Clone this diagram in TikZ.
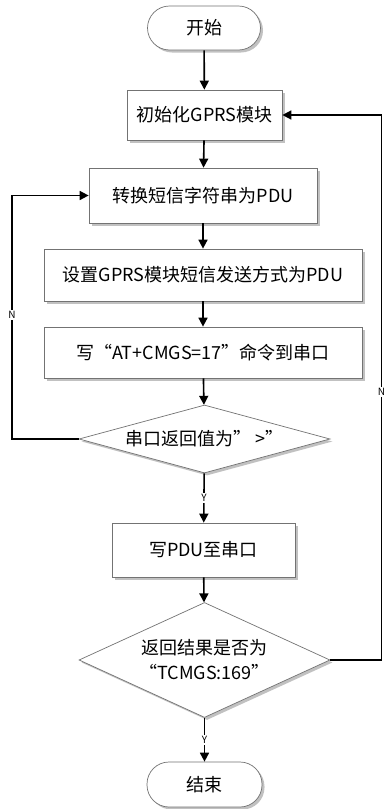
\documentclass[tikz,border=0pt]{standalone}
\usepackage{fontspec}
\setmainfont{Noto Sans CJK SC}
\usetikzlibrary{arrows.meta,shapes.geometric,shadows}
\begin{document}
\begin{tikzpicture}[x=1pt,y=-1pt,
  every node/.style={font=\fontsize{18}{25}\selectfont, inner sep=0pt},
  boxshadow/.style={drop shadow={shadow xshift=2.5pt,shadow yshift=-2.5pt,fill=black!40,opacity=0.6}},
  proc/.style={draw=black!55, line width=0.7pt, fill=white, rectangle, boxshadow},
  term/.style={draw=black!55, line width=0.7pt, fill=white, rectangle, rounded corners=22pt, boxshadow},
  dec/.style={draw=black!55, line width=0.7pt, fill=white, diamond, boxshadow, align=center},
  arr/.style={line width=1.6pt, -{Triangle[length=9pt,width=9pt]}},
  lbl/.style={font=\fontsize{10}{11}\selectfont, fill=white, inner sep=1.2pt}
]
\useasboundingbox (0,0) rectangle (387,809);
\fill[white] (0,0) rectangle (387,809);

\node[term, minimum width=113pt, minimum height=44pt] (start) at (204,28) {开始};
\node[proc, minimum width=155pt, minimum height=50pt] (b1) at (204.5,115) {初始化GPRS模块};
\node[proc, minimum width=228pt, minimum height=55pt] (b2) at (203,195.5) {转换短信字符串为PDU};
\node[proc, minimum width=318pt, minimum height=52pt] (b3) at (203,275) {设置GPRS模块短信发送方式为PDU};
\node[proc, minimum width=318pt, minimum height=51pt] (b4) at (203,352.5) {写“AT+CMGS=17”命令到串口};
\node[dec, aspect=3.7, minimum width=251pt, minimum height=68pt] (d1) at (204.5,439) {串口返回值为” >”};
\node[proc, minimum width=183pt, minimum height=54pt] (b5) at (203.5,550) {写PDU至串口};
\node[dec, aspect=2.18, minimum width=251pt, minimum height=115pt] (d2) at (204.5,660) {返回结果是否为\\“TCMGS:169”};
\node[term, minimum width=115pt, minimum height=45pt] (end) at (204.5,784.5) {结束};

\draw[arr] (start) -- (b1);
\draw[arr] (b1) -- (b2);
\draw[arr] (b2) -- (b3);
\draw[arr] (b3) -- (b4);
\draw[arr] (b4) -- (d1);
\draw[arr] (d1) -- node[lbl] {Y} (b5);
\draw[arr] (b5) -- (d2);
\draw[arr] (d2) -- node[lbl] {Y} (end);

\coordinate (lx) at (12,439);
\coordinate (rx) at (381.5,660);
\draw[arr] (d1.west) -- (lx) |- (b2.west);
\node[lbl] (nl) at (12,315) {N};
\draw[arr] (d2.east) -- (rx) |- (b1.east);
\node[lbl] (nr) at (381.5,392) {N};
\end{tikzpicture}
\end{document}
